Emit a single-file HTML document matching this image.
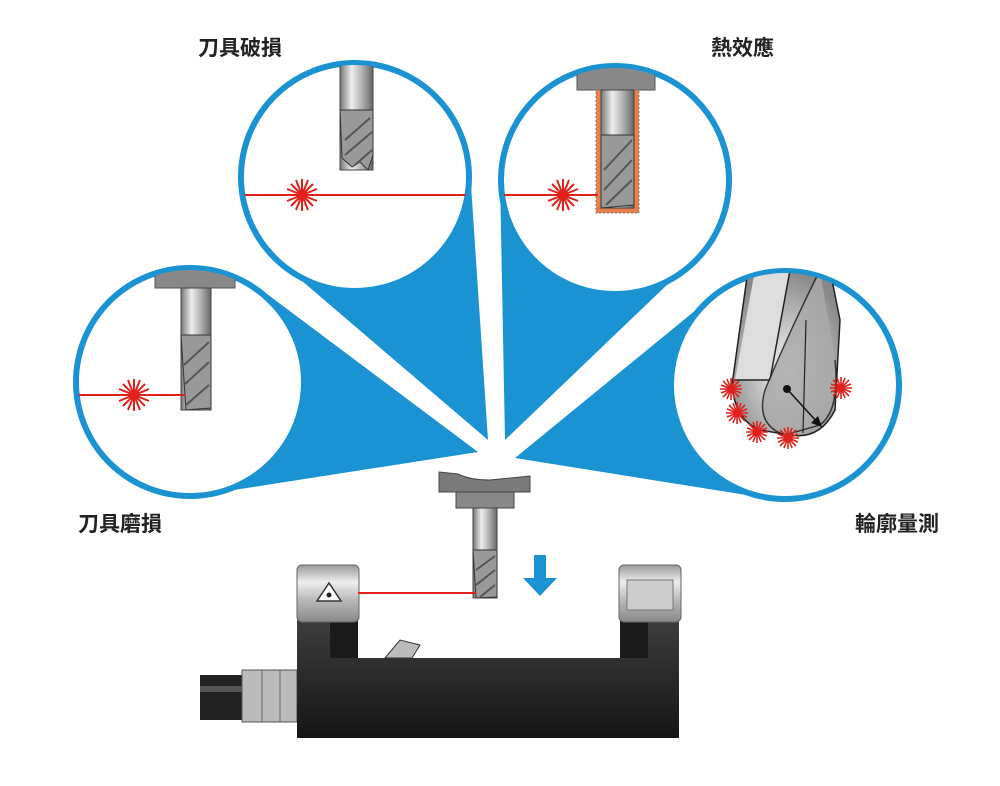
<!DOCTYPE html>
<html><head><meta charset="utf-8"><style>
html,body{margin:0;padding:0;background:#fff;}
svg{display:block}
text{font-family:"Liberation Sans","Noto Sans CJK TC",sans-serif;font-size:21px;font-weight:bold;fill:#222}
</style></head><body>
<svg width="1000" height="786" viewBox="0 0 1000 786" xmlns="http://www.w3.org/2000/svg">
<defs>
<linearGradient id="sh" x1="0" x2="1" y1="0" y2="0">
<stop offset="0" stop-color="#777"/><stop offset="0.35" stop-color="#eee"/><stop offset="0.7" stop-color="#aaa"/><stop offset="1" stop-color="#666"/></linearGradient>
<linearGradient id="bk" x1="0" x2="0" y1="0" y2="1"><stop offset="0" stop-color="#3d3d3d"/><stop offset="1" stop-color="#151515"/></linearGradient>
<linearGradient id="cap" x1="0" x2="0" y1="0" y2="1"><stop offset="0" stop-color="#999"/><stop offset="0.3" stop-color="#eee"/><stop offset="0.6" stop-color="#bbb"/><stop offset="1" stop-color="#888"/></linearGradient>
<radialGradient id="ball" cx="0.5" cy="0.6" r="0.6"><stop offset="0" stop-color="#f4f4f4"/><stop offset="1" stop-color="#888"/></radialGradient>
<g id="star" stroke="#e0201a" stroke-width="2">
<line x1="-16" y1="0" x2="16" y2="0"/><line x1="0" y1="-16" x2="0" y2="16"/>
<line x1="-11" y1="-11" x2="11" y2="11"/><line x1="-11" y1="11" x2="11" y2="-11"/>
<line x1="-15" y1="-6" x2="15" y2="6"/><line x1="-15" y1="6" x2="15" y2="-6"/>
<line x1="-6" y1="-15" x2="6" y2="15"/><line x1="6" y1="-15" x2="-6" y2="15"/>
<circle r="5" fill="#e0201a" stroke="none"/></g>
<g id="mstar" stroke="#e0201a" stroke-width="1.6">
<line x1="-11" y1="0" x2="11" y2="0"/><line x1="0" y1="-11" x2="0" y2="11"/>
<line x1="-8" y1="-8" x2="8" y2="8"/><line x1="-8" y1="8" x2="8" y2="-8"/>
<line x1="-10" y1="-4" x2="10" y2="4"/><line x1="-10" y1="4" x2="10" y2="-4"/>
<line x1="-4" y1="-10" x2="4" y2="10"/><line x1="4" y1="-10" x2="-4" y2="10"/>
<circle r="4" fill="#e0201a" stroke="none"/></g>
<clipPath id="c1"><circle cx="355" cy="177" r="112"/></clipPath>
<clipPath id="c2"><circle cx="615" cy="180" r="112"/></clipPath>
<clipPath id="c3"><circle cx="190" cy="382" r="112"/></clipPath>
<clipPath id="c4"><circle cx="785" cy="385" r="112"/></clipPath>
</defs>

<g fill="#1b93d3">
<polygon points="488,440 470,170 281,263"/>
<polygon points="505,440 695,258 500,177"/>
<polygon points="478,452 259,288 208,494"/>
<polygon points="515,458 765,498 713,296"/>
</g>
<g fill="#fff" stroke="#1b93d3" stroke-width="6">
<circle cx="355" cy="177" r="114"/>
<circle cx="615" cy="180" r="114"/>
<circle cx="190" cy="382" r="114"/>
<circle cx="785" cy="385" r="114"/>
</g>

<g clip-path="url(#c1)">
<rect x="340" y="55" width="33" height="115" fill="url(#sh)" stroke="#444" stroke-width="1"/>
<path d="M340 110 L373 110 L373 155 L368 170 L360 162 L352 167 L342 158 Z" fill="#999" stroke="#333"/>
<path d="M345 140 L370 118 M345 155 L372 132 M355 165 L372 150" stroke="#555" stroke-width="2"/>
<line x1="240" y1="195" x2="470" y2="195" stroke="#e0201a" stroke-width="2"/>
<use href="#star" x="302" y="195"/>
</g>
<g clip-path="url(#c2)">
<rect x="577" y="65" width="78" height="25" fill="#888" stroke="#555"/>
<rect x="596" y="90" width="43" height="123" fill="#e8804e" stroke="#777" stroke-dasharray="2,2"/>
<rect x="601" y="90" width="33" height="118" fill="url(#sh)" stroke="#444"/>
<path d="M601 135 L634 135 L634 205 L601 208 Z" fill="#999" stroke="#333"/>
<path d="M604 170 L632 140 M604 190 L632 160 M606 205 L632 180" stroke="#555" stroke-width="2"/>
<line x1="500" y1="195" x2="598" y2="195" stroke="#e0201a" stroke-width="2"/>
<use href="#star" x="563" y="195"/>
</g>
<g clip-path="url(#c3)">
<rect x="155" y="266" width="80" height="22" fill="#888" stroke="#555"/>
<rect x="181" y="288" width="30" height="122" fill="url(#sh)" stroke="#444"/>
<path d="M181 335 L211 335 L211 408 L186 410 Z" fill="#999" stroke="#333"/>
<path d="M184 365 L209 342 M184 385 L209 362 M186 405 L209 385" stroke="#555" stroke-width="2"/>
<line x1="75" y1="395" x2="185" y2="395" stroke="#e0201a" stroke-width="2"/>
<use href="#star" x="134" y="395"/>
</g>
<g clip-path="url(#c4)">
<path d="M748 270 L830 270 L840 320 L835 410 Q820 440 790 435 L760 430 Q735 420 732 385 Z" fill="url(#ball)" stroke="#222" stroke-width="1.5"/>
<path d="M755 270 L790 270 L770 380 L735 380" fill="#ddd" stroke="#222" stroke-width="1.5"/>
<path d="M820 270 Q790 330 765 390 Q755 425 785 435 L820 425 Q840 410 835 360" fill="#aaa" stroke="#222" stroke-width="1.5" opacity="0.85"/>
<line x1="806" y1="320" x2="803" y2="433" stroke="#222" stroke-width="1.2"/>
<circle cx="787" cy="389" r="4" fill="#111"/>
<line x1="787" y1="389" x2="818" y2="423" stroke="#111" stroke-width="1.5"/>
<polygon points="822,427 811,423 818,416" fill="#111"/>
<use href="#mstar" x="731" y="389"/><use href="#mstar" x="737" y="413"/>
<use href="#mstar" x="757" y="432"/><use href="#mstar" x="788" y="438"/>
<use href="#mstar" x="841" y="388"/>
</g>

<text x="198" y="55">刀具破損</text>
<text x="711" y="55">熱效應</text>
<text x="78" y="531">刀具磨損</text>
<text x="855" y="531">輪廓量測</text>

<path d="M439 472 L458 474 Q470 480 490 480 Q510 478 530 476 L530 492 L439 492 Z" fill="#7a7a7a" stroke="#444"/>
<rect x="456" y="492" width="58" height="16" fill="#888" stroke="#444"/>
<rect x="473" y="508" width="24" height="90" fill="url(#sh)" stroke="#444"/>
<path d="M473 550 L497 550 L497 597 L476 598 Z" fill="#999" stroke="#333"/>
<path d="M476 570 L495 556 M476 585 L495 570 M480 597 L495 585" stroke="#555" stroke-width="2"/>
<rect x="534" y="555" width="12" height="25" fill="#1b93d3"/>
<polygon points="523,578 557,578 540,596" fill="#1b93d3"/>

<rect x="200" y="675" width="45" height="45" fill="#222"/>
<rect x="200" y="686" width="45" height="6" fill="#555"/>
<rect x="242" y="670" width="55" height="52" fill="#bbb" stroke="#555"/>
<line x1="262" y1="670" x2="262" y2="722" stroke="#666"/><line x1="280" y1="670" x2="280" y2="722" stroke="#666"/>
<path d="M297 620 L358 620 L358 658 L620 658 L620 620 L679 620 L679 738 L297 738 Z" fill="url(#bk)"/>
<rect x="330" y="620" width="28" height="38" fill="#1a1a1a"/>
<rect x="620" y="620" width="28" height="38" fill="#1a1a1a"/>
<path d="M385 658 L400 640 L420 645 L412 658 Z" fill="#bbb" stroke="#333"/>
<rect x="297" y="565" width="62" height="57" rx="5" fill="url(#cap)" stroke="#666"/>
<rect x="619" y="565" width="62" height="57" rx="5" fill="url(#cap)" stroke="#666"/>
<polygon points="329,583 317,601 341,601" fill="#fff" stroke="#333" stroke-width="1.5"/>
<circle cx="329" cy="595" r="2.5" fill="#222"/>
<rect x="627" y="580" width="46" height="30" fill="#ccc" stroke="#777"/>
<line x1="358" y1="593" x2="476" y2="593" stroke="#e0201a" stroke-width="2"/>
</svg>
</body></html>
